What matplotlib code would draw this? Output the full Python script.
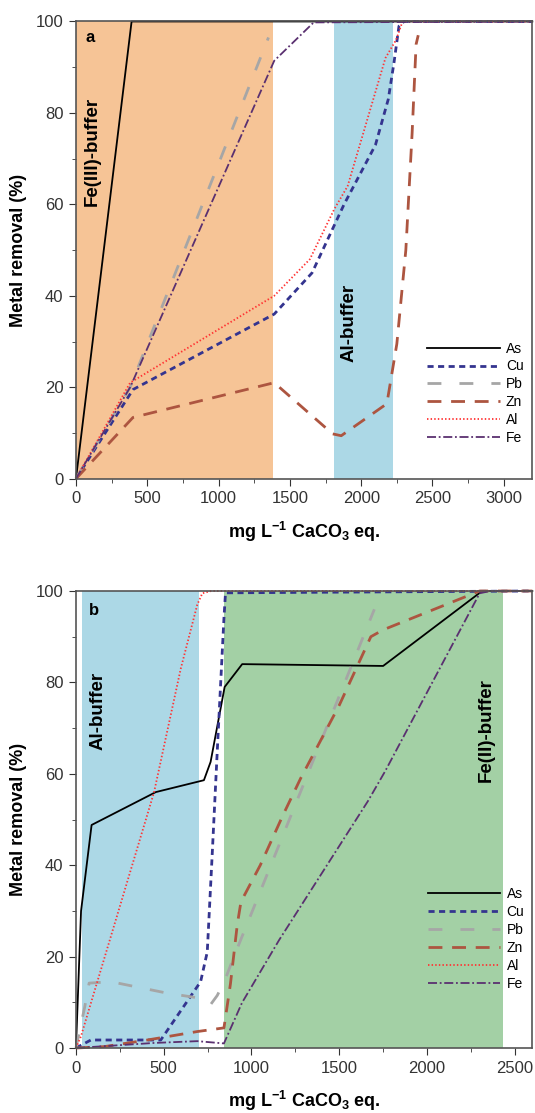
import numpy as np
import matplotlib
matplotlib.use("Agg")
import matplotlib.pyplot as plt
from matplotlib.ticker import MultipleLocator

plt.rcParams['font.family'] = ['Liberation Sans', 'DejaVu Sans']

# ---- panel a ----
a_as_x = [0, 390, 3200]
a_as_y = [0, 100, 100]
a_cu_x = [0, 400, 1390, 1655, 1715, 1880, 2100, 2190, 2230, 2265, 2300, 3200]
a_cu_y = [0, 19.5, 36, 45, 49, 60, 73, 83, 91, 99, 100, 100]
a_pb_x = [0, 380, 1350]
a_pb_y = [0, 20, 96.5]
a_zn_x = [0, 400, 1390, 1800, 1860, 2180, 2250, 2313, 2357, 2385, 2400]
a_zn_y = [0, 13.4, 21, 9.8, 9.4, 16.4, 29.5, 50, 75.5, 95, 97]
a_al_x = [0, 380, 1390, 1640, 1812, 1905, 2170, 2245, 2290, 3200]
a_al_y = [0, 21, 40, 48, 59, 64, 92, 96, 100, 100]
a_fe_x = [0, 380, 1390, 1667, 3200]
a_fe_y = [0, 20, 91.4, 99.8, 100]

# ---- panel b ----
b_as_x = [0, 29, 89, 455, 729, 767, 847, 947, 1750, 2314, 2600]
b_as_y = [0, 30, 48.8, 56, 58.6, 62.6, 79, 84, 83.6, 100, 100]
b_cu_x = [0, 85, 483, 710, 748, 777, 805, 843, 852, 2600]
b_cu_y = [0, 1.75, 1.75, 14.5, 21, 43, 65, 94, 99.6, 100]
b_pb_x = [0, 50, 75, 200, 520, 690, 767, 805, 850, 900, 1700]
b_pb_y = [0, 9, 14.2, 14.5, 12, 11, 9.5, 11.5, 15, 20, 96]
b_zn_x = [0, 161, 407, 691, 843, 880, 919, 940, 1050, 1180, 1280, 1500, 1680, 1750, 2300, 2600]
b_zn_y = [0, 0.3, 1.75, 3.6, 4.4, 14, 27, 32, 40, 51, 59, 75, 90, 91.5, 100, 100]
b_al_x = [0, 28, 445, 597, 691, 720, 770, 2600]
b_al_y = [0, 2.5, 56, 83, 97, 99.5, 100, 100]
b_fe_x = [0, 442, 691, 843, 946, 1157, 1663, 1762, 2300, 2360, 2600]
b_fe_y = [0, 1.1, 1.5, 1.0, 9.9, 23.6, 54, 60.6, 99.5, 100, 100]

names = ['As', 'Cu', 'Pb', 'Zn', 'Al', 'Fe']
colors = ['black', '#34348f', '#a6a6a6', '#ad5540', '#ff3333', '#5a3070']
styles = [dict(ls='-', lw=1.3),
          dict(ls=(0, (2.2, 1.6)), lw=2.0),
          dict(ls=(0, (5, 6.5)), lw=2.0),
          dict(ls=(0, (5, 3.5)), lw=2.0),
          dict(ls=(0, (0.8, 1.2)), lw=1.3),
          dict(ls=(0, (5, 1.5, 1, 1.5)), lw=1.3)]

fig = plt.figure(figsize=(5.35, 11.13), dpi=100)
ax1 = fig.add_axes([0.142, 0.5699, 0.853, 0.4108])
ax2 = fig.add_axes([0.142, 0.0584, 0.853, 0.4106])


def style_axes(ax, xmax):
    ax.set_xlim(0, xmax)
    ax.set_ylim(0, 100)
    ax.xaxis.set_major_locator(MultipleLocator(500))
    ax.xaxis.set_minor_locator(MultipleLocator(250))
    ax.yaxis.set_major_locator(MultipleLocator(20))
    ax.yaxis.set_minor_locator(MultipleLocator(10))
    ax.tick_params(which='major', direction='out', length=5, labelsize=12,
                   colors='#333333', pad=4)
    ax.tick_params(which='minor', direction='out', length=3, colors='#333333')
    for s in ax.spines.values():
        s.set_color('#555555')
        s.set_linewidth(1.2)
    ax.set_ylabel('Metal removal (%)', fontsize=13, fontweight='bold', labelpad=6)
    ax.set_xlabel(r'mg L$^{\mathregular{-1}}$ CaCO$_\mathregular{3}$ eq.', fontsize=13,
                  fontweight='bold', labelpad=10)


def add_legend(ax, xa, ya):
    ax.legend(loc='upper left', bbox_to_anchor=(xa, ya), frameon=False, fontsize=10,
              handlelength=5.2, labelspacing=0.28, handletextpad=0.45,
              borderpad=0, borderaxespad=0)


# panel a
ax1.axvspan(0, 1385, color='#f6c496', lw=0, zorder=0)
ax1.axvspan(1812, 2225, color='#acd8e6', lw=0, zorder=0)
series_a = [(a_as_x, a_as_y), (a_cu_x, a_cu_y), (a_pb_x, a_pb_y),
            (a_zn_x, a_zn_y), (a_al_x, a_al_y), (a_fe_x, a_fe_y)]
for (x, y), n, c, st in zip(series_a, names, colors, styles):
    ax1.plot(x, y, color=c, label=n, clip_on=False, **st)
style_axes(ax1, 3200)
ax1.text(98, 96.5, 'a', fontsize=12, fontweight='bold', ha='center', va='center')
ax1.text(112, 71.5, 'Fe(III)-buffer', rotation=90, fontsize=13.5, fontweight='bold',
         ha='center', va='center')
ax1.text(1916, 34, 'Al-buffer', rotation=90, fontsize=13.5, fontweight='bold',
         ha='center', va='center')
add_legend(ax1, 0.77, 0.30)

# panel b
ax2.axvspan(35, 700, color='#acd8e6', lw=0, zorder=0)
ax2.axvspan(843, 2432, color='#a3d0a5', lw=0, zorder=0)
series_b = [(b_as_x, b_as_y), (b_cu_x, b_cu_y), (b_pb_x, b_pb_y),
            (b_zn_x, b_zn_y), (b_al_x, b_al_y), (b_fe_x, b_fe_y)]
for (x, y), n, c, st in zip(series_b, names, colors, styles):
    ax2.plot(x, y, color=c, label=n, clip_on=False, **st)
style_axes(ax2, 2600)
ax2.text(102, 95.8, 'b', fontsize=12, fontweight='bold', ha='center', va='center')
ax2.text(123, 73.7, 'Al-buffer', rotation=90, fontsize=13.5, fontweight='bold',
         ha='center', va='center')
ax2.text(2335, 69.6, 'Fe(II)-buffer', rotation=90, fontsize=13.5, fontweight='bold',
         ha='center', va='center')
add_legend(ax2, 0.772, 0.352)

fig.savefig('out.png', dpi=100)
